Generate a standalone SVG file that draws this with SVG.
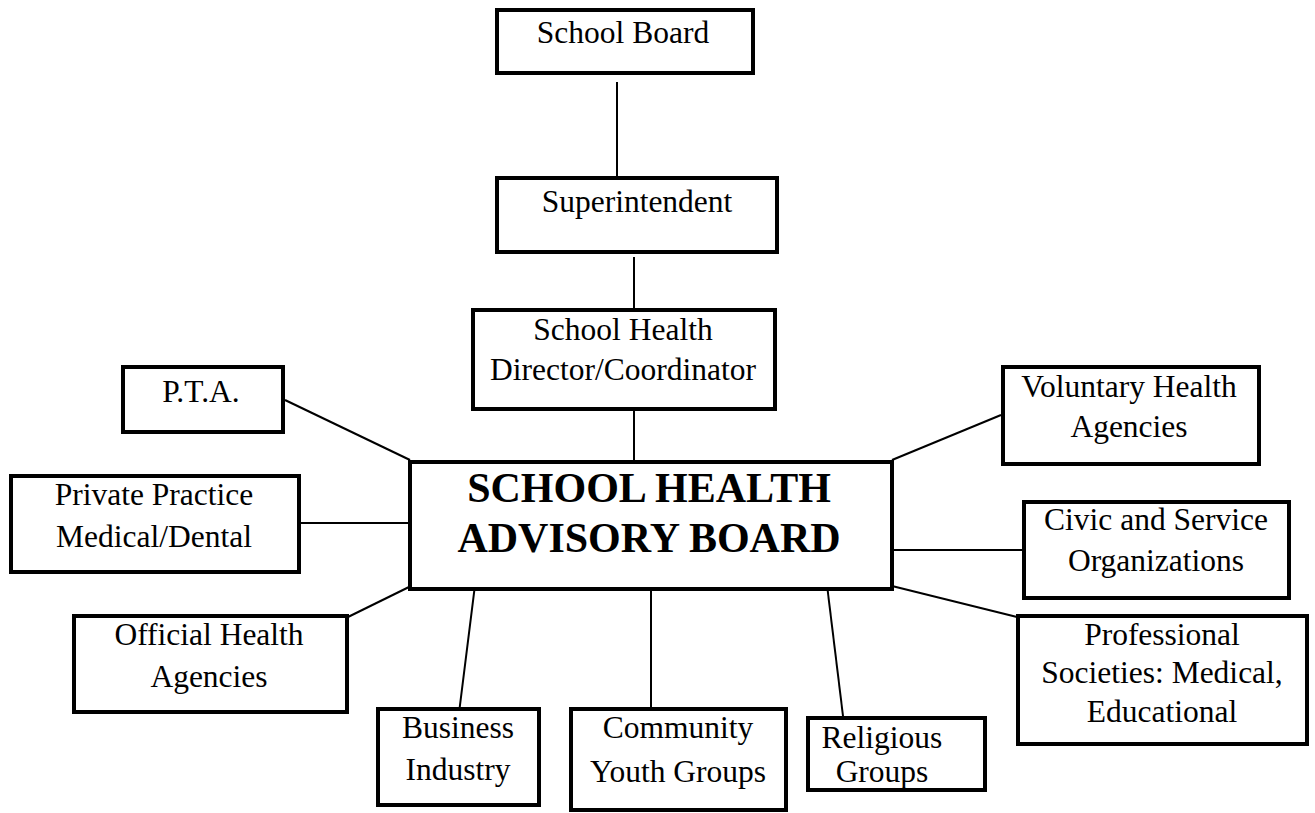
<svg xmlns="http://www.w3.org/2000/svg" width="1315" height="813" viewBox="0 0 1315 813">
<style>
.box{fill:#fff;stroke:#000;stroke-width:4}
.t{font-family:"Liberation Serif","Times New Roman",serif;font-size:31.5px;fill:#000;text-anchor:middle}
.b{font-family:"Liberation Serif","Times New Roman",serif;font-size:42px;font-weight:bold;fill:#000;text-anchor:middle}
.c{stroke:#000;stroke-width:2;fill:none}
</style>
<rect width="1315" height="813" fill="#fff"/>
<g id="connectors">
<line class="c" x1="617" y1="82" x2="617" y2="177"/>
<line class="c" x1="634" y1="257" x2="634" y2="308"/>
<line class="c" x1="634" y1="398" x2="634" y2="462"/>
<line class="c" x1="285" y1="400" x2="410" y2="460"/>
<line class="c" x1="300" y1="523" x2="410" y2="523"/>
<line class="c" x1="348" y1="617" x2="409" y2="587"/>
<line class="c" x1="475" y1="585" x2="459" y2="713"/>
<line class="c" x1="651" y1="585" x2="651" y2="713"/>
<line class="c" x1="827" y1="585" x2="843" y2="716"/>
<line class="c" x1="892" y1="460" x2="1001" y2="415"/>
<line class="c" x1="880" y1="550" x2="1024" y2="550"/>
<line class="c" x1="892" y1="586" x2="1017" y2="617"/>
</g>
<g id="school-board"><rect class="box" x="497" y="10" width="256" height="63"/><text class="t" x="623" y="43">School Board</text></g>
<g id="superintendent"><rect class="box" x="497" y="178" width="280" height="74"/><text class="t" x="637" y="212">Superintendent</text></g>
<g id="director"><rect class="box" x="473" y="310" width="302" height="99"/><text class="t" x="623" y="340">School Health</text><text class="t" x="623" y="380">Director/Coordinator</text></g>
<g id="advisory-board"><rect class="box" x="410" y="462" width="482" height="127" stroke-width="4.5"/><text class="b" x="649" y="502">SCHOOL HEALTH</text><text class="b" x="649" y="552">ADVISORY BOARD</text></g>
<g id="pta"><rect class="box" x="123" y="367" width="160" height="65"/><text class="t" x="201" y="402">P.T.A.</text></g>
<g id="private-practice"><rect class="box" x="11" y="476" width="288" height="96"/><text class="t" x="154" y="505">Private Practice</text><text class="t" x="154" y="547">Medical/Dental</text></g>
<g id="official-health"><rect class="box" x="74" y="616" width="273" height="96"/><text class="t" x="209" y="645">Official Health</text><text class="t" x="209" y="687">Agencies</text></g>
<g id="business"><rect class="box" x="378" y="709" width="161" height="96"/><text class="t" x="458" y="738">Business</text><text class="t" x="458" y="780">Industry</text></g>
<g id="community"><rect class="box" x="571" y="709" width="215" height="101"/><text class="t" x="678" y="738">Community</text><text class="t" x="678" y="782">Youth Groups</text></g>
<g id="religious"><rect class="box" x="808" y="718" width="177" height="72"/><text class="t" x="882" y="748">Religious</text><text class="t" x="882" y="782">Groups</text></g>
<g id="voluntary"><rect class="box" x="1003" y="367" width="256" height="97"/><text class="t" x="1129" y="397">Voluntary Health</text><text class="t" x="1129" y="437">Agencies</text></g>
<g id="civic"><rect class="box" x="1024" y="502" width="265" height="96"/><text class="t" x="1156" y="530">Civic and Service</text><text class="t" x="1156" y="571">Organizations</text></g>
<g id="professional"><rect class="box" x="1018" y="616" width="289" height="128"/><text class="t" x="1162" y="645">Professional</text><text class="t" x="1162" y="683">Societies: Medical,</text><text class="t" x="1162" y="722">Educational</text></g>
</svg>
